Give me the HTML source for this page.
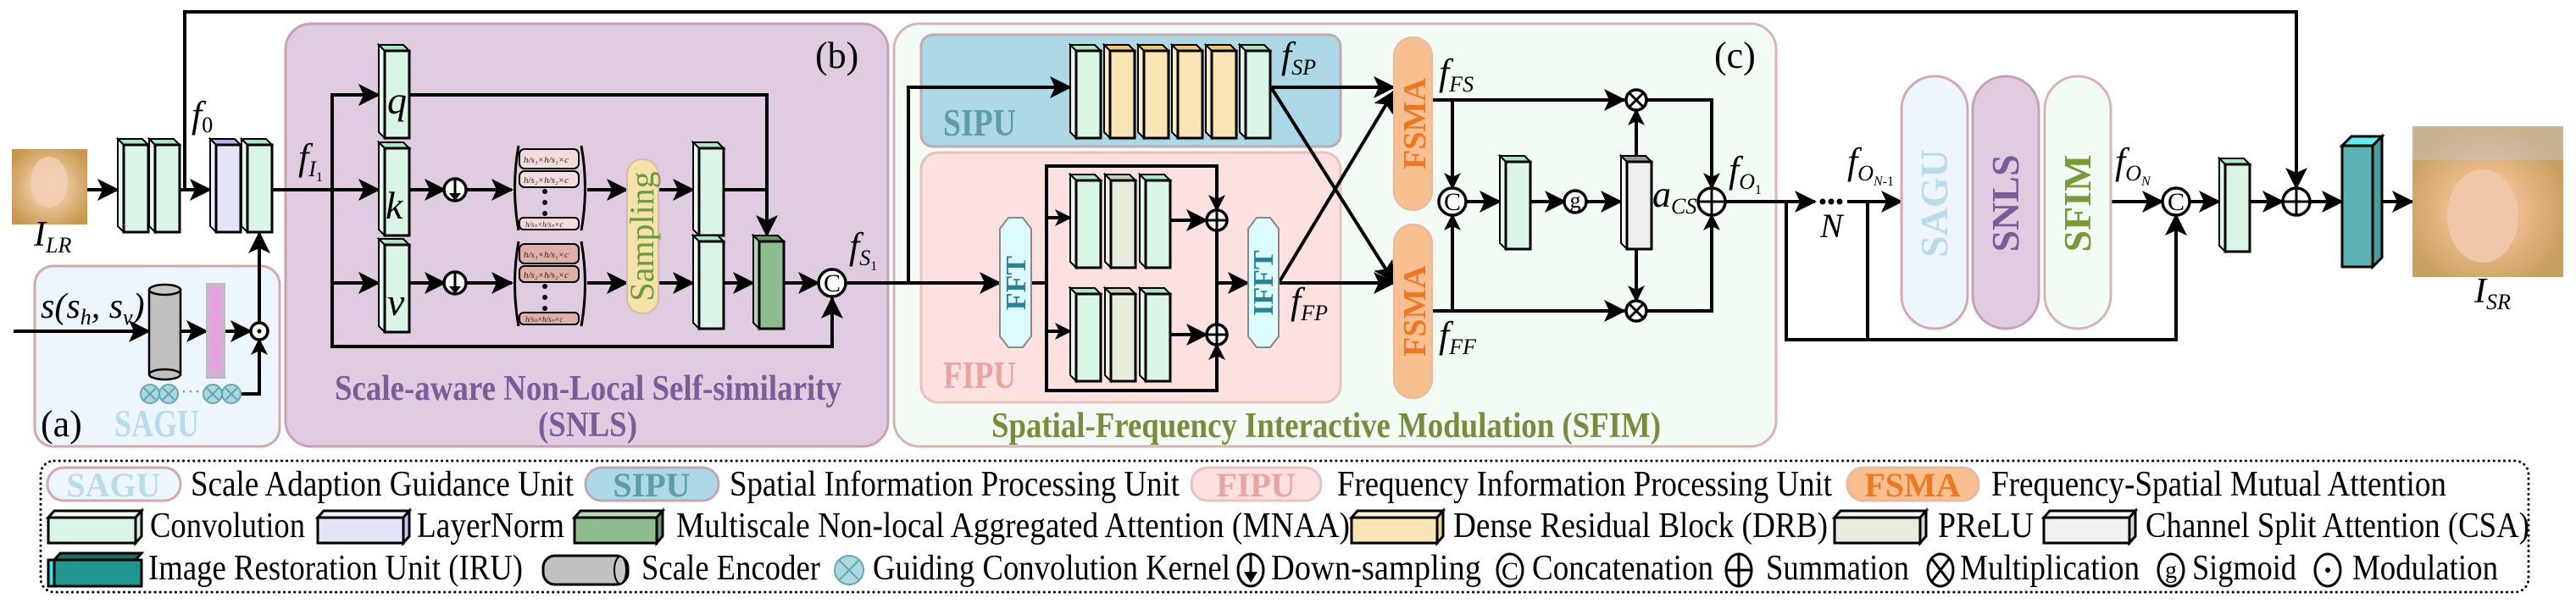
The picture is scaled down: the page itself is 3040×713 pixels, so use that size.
<!DOCTYPE html>
<html><head><meta charset="utf-8"><style>
html,body{margin:0;padding:0;background:#fff;}
svg{display:block;font-family:"Liberation Serif","Times New Roman",serif;}
svg text{font-family:"Liberation Serif","Times New Roman",serif;}
.i{font-style:italic;}
</style></head><body>
<svg width="3040" height="713" viewBox="0 0 3040 713" xmlns="http://www.w3.org/2000/svg" font-family="Liberation Serif, serif">
<defs>
<marker id="a" markerUnits="userSpaceOnUse" markerWidth="26" markerHeight="26" refX="24" refY="13" orient="auto"><path d="M0,0 L26,13 L0,26 L6,13 Z" fill="#000"/></marker>
<marker id="s" markerUnits="userSpaceOnUse" markerWidth="20" markerHeight="20" refX="18" refY="10" orient="auto"><path d="M0,0 L20,10 L0,20 L5,10 Z" fill="#000"/></marker>
<g id="bc"><polygon points="0,0 29,0 36,7 7,7" fill="#a8e8c4" stroke="#000" stroke-width="2"/><polygon points="0,0 7,7 7,110 0,103" fill="#e6f8ee" stroke="#000" stroke-width="2"/><rect x="7" y="7" width="29" height="103" fill="#d9f5e5" stroke="#000" stroke-width="3"/></g>
<g id="bl"><polygon points="0,0 29,0 36,7 7,7" fill="#b4b4e8" stroke="#000" stroke-width="2"/><polygon points="0,0 7,7 7,110 0,103" fill="#ececfa" stroke="#000" stroke-width="2"/><rect x="7" y="7" width="29" height="103" fill="#e4e4f8" stroke="#000" stroke-width="3"/></g>
<g id="bd"><polygon points="0,0 29,0 36,7 7,7" fill="#f0c870" stroke="#000" stroke-width="2"/><polygon points="0,0 7,7 7,110 0,103" fill="#fbecc8" stroke="#000" stroke-width="2"/><rect x="7" y="7" width="29" height="103" fill="#f8e4b4" stroke="#000" stroke-width="3"/></g>
<g id="bp"><polygon points="0,0 29,0 36,7 7,7" fill="#c8d0b8" stroke="#000" stroke-width="2"/><polygon points="0,0 7,7 7,110 0,103" fill="#f0f2e8" stroke="#000" stroke-width="2"/><rect x="7" y="7" width="29" height="103" fill="#e8ecdc" stroke="#000" stroke-width="3"/></g>
<g id="bm"><polygon points="0,0 29,0 36,7 7,7" fill="#5e9a64" stroke="#000" stroke-width="2"/><polygon points="0,0 7,7 7,110 0,103" fill="#b4d4b4" stroke="#000" stroke-width="2"/><rect x="7" y="7" width="29" height="103" fill="#8fbc8f" stroke="#000" stroke-width="3"/></g>
<g id="bg"><polygon points="0,0 29,0 36,7 7,7" fill="#999" stroke="#000" stroke-width="2"/><polygon points="0,0 7,7 7,110 0,103" fill="#f6f6f6" stroke="#000" stroke-width="2"/><rect x="7" y="7" width="29" height="103" fill="#efefef" stroke="#000" stroke-width="3"/></g>
<radialGradient id="face1" cx="50%" cy="50%" r="60%"><stop offset="0" stop-color="#f0c8a8"/><stop offset="0.45" stop-color="#e8c090"/><stop offset="1" stop-color="#c89850"/></radialGradient>
<radialGradient id="face2" cx="48%" cy="55%" r="55%"><stop offset="0" stop-color="#f4c8a8"/><stop offset="0.5" stop-color="#e8b888"/><stop offset="1" stop-color="#c8a060"/></radialGradient>
</defs>

<rect x="41" y="314" width="289" height="213" rx="22" fill="#eef6fd" stroke="#d4a8b0" stroke-width="3"/>
<rect x="337" y="28" width="711" height="499" rx="30" fill="#dfcce0" stroke="#c9a0b4" stroke-width="3"/>
<rect x="1055" y="28" width="1041" height="499" rx="30" fill="#f2fbf4" stroke="#d8b4b4" stroke-width="3"/>
<rect x="1087" y="41" width="495" height="132" rx="14" fill="#add8e6" stroke="#c0a8b4" stroke-width="3"/>
<rect x="1087" y="180" width="495" height="295" rx="20" fill="#fde1e0" stroke="#eac0c0" stroke-width="3"/>

<text x="962" y="80" font-size="44">(b)</text>
<text x="2023" y="80" font-size="44">(c)</text>
<text x="48" y="515" font-size="44">(a)</text>
<text x="135" y="515" font-size="46" font-weight="bold" fill="#b8dce8" textLength="100" lengthAdjust="spacingAndGlyphs">SAGU</text>
<text x="1113" y="160" font-size="46" font-weight="bold" fill="#5f9ea0" textLength="86" lengthAdjust="spacingAndGlyphs">SIPU</text>
<text x="1113" y="458" font-size="46" font-weight="bold" fill="#e8a4a4" textLength="86" lengthAdjust="spacingAndGlyphs">FIPU</text>
<text x="395" y="472" font-size="42" font-weight="bold" fill="#7a5c99" textLength="598" lengthAdjust="spacingAndGlyphs">Scale-aware Non-Local Self-similarity</text>
<text x="635" y="515" font-size="42" font-weight="bold" fill="#7a5c99" textLength="117" lengthAdjust="spacingAndGlyphs">(SNLS)</text>
<text x="1170" y="516" font-size="42" font-weight="bold" fill="#7a8c3c" textLength="790" lengthAdjust="spacingAndGlyphs">Spatial-Frequency Interactive Modulation (SFIM)</text>

<g stroke="#000" stroke-width="4" fill="none">
<polyline points="218,224 218,14 2710,14 2710,222" marker-end="url(#a)"/>
<line x1="103" y1="224" x2="139" y2="224" marker-end="url(#a)"/>
<line x1="212" y1="224" x2="248" y2="224" marker-end="url(#a)"/>
<line x1="320" y1="224" x2="447" y2="224" marker-end="url(#a)"/>
<polyline points="447,112 392,112 392,409 982,409 982,352" marker-end="url(#a)"/>
<line x1="392" y1="334" x2="447" y2="334" marker-end="url(#a)"/>
<line x1="392" y1="112" x2="447" y2="112" marker-end="url(#a)"/>
<polyline points="483,112 905,112 905,278" marker-end="url(#a)"/>
<line x1="483" y1="224" x2="525" y2="224" marker-end="url(#a)"/>
<line x1="483" y1="334" x2="525" y2="334" marker-end="url(#a)"/>
<line x1="549" y1="224" x2="604" y2="224" marker-end="url(#a)"/>
<line x1="549" y1="334" x2="604" y2="334" marker-end="url(#a)"/>
<line x1="693" y1="224" x2="740" y2="224" marker-end="url(#a)"/>
<line x1="693" y1="334" x2="740" y2="334" marker-end="url(#a)"/>
<line x1="777" y1="224" x2="818" y2="224" marker-end="url(#a)"/>
<line x1="777" y1="334" x2="818" y2="334" marker-end="url(#a)"/>
<line x1="854" y1="224" x2="905" y2="224"/>
<line x1="854" y1="334" x2="889" y2="334" marker-end="url(#a)"/>
<line x1="926" y1="334" x2="966" y2="334" marker-end="url(#a)"/>
<line x1="16" y1="391" x2="176" y2="391" marker-end="url(#a)"/>
<line x1="213" y1="391" x2="244" y2="391" marker-end="url(#a)"/>
<line x1="265" y1="391" x2="296" y2="391" marker-end="url(#a)"/>
<polyline points="285,465 306,465 306,401" marker-end="url(#s)"/>
<line x1="306" y1="381" x2="306" y2="275" marker-end="url(#a)"/>
<polyline points="998,334 1072,334 1072,103 1263,103" marker-end="url(#a)"/>
<line x1="1072" y1="334" x2="1180" y2="334" marker-end="url(#a)"/>
<line x1="1217" y1="334" x2="1235" y2="334"/>
<polyline points="1436,248 1436,196 1235,196 1235,461 1436,461 1436,407"/>
<line x1="1235" y1="257" x2="1263" y2="257" marker-end="url(#s)"/>
<line x1="1235" y1="391" x2="1263" y2="391" marker-end="url(#s)"/>
<line x1="1381" y1="260" x2="1424" y2="260" marker-end="url(#a)"/>
<line x1="1381" y1="395" x2="1424" y2="395" marker-end="url(#a)"/>
<line x1="1436" y1="272" x2="1436" y2="383"/>
<line x1="1436" y1="334" x2="1473" y2="334" marker-end="url(#a)"/>
<line x1="1436" y1="196" x2="1436" y2="248" marker-end="url(#s)"/>
<line x1="1436" y1="461" x2="1436" y2="407" marker-end="url(#s)"/>
<line x1="1500" y1="103" x2="1645" y2="103" marker-end="url(#a)"/>
<line x1="1500" y1="103" x2="1645" y2="333" marker-end="url(#a)"/>
<line x1="1509" y1="334" x2="1645" y2="334" marker-end="url(#a)"/>
<line x1="1509" y1="334" x2="1645" y2="108" marker-end="url(#a)"/>
<line x1="1690" y1="118" x2="1917" y2="118" marker-end="url(#a)"/>
<line x1="1690" y1="367" x2="1917" y2="367" marker-end="url(#a)"/>
<line x1="1714" y1="118" x2="1714" y2="222" marker-end="url(#s)"/>
<line x1="1714" y1="367" x2="1714" y2="254" marker-end="url(#s)"/>
<line x1="1730" y1="238" x2="1770" y2="238" marker-end="url(#a)"/>
<line x1="1805" y1="238" x2="1847" y2="238" marker-end="url(#a)"/>
<line x1="1871" y1="238" x2="1913" y2="238" marker-end="url(#a)"/>
<line x1="1931" y1="184" x2="1931" y2="130" marker-end="url(#s)"/>
<line x1="1931" y1="294" x2="1931" y2="355" marker-end="url(#s)"/>
<polyline points="1941,118 2020,118 2020,222" marker-end="url(#s)"/>
<polyline points="1941,367 2020,367 2020,254" marker-end="url(#s)"/>
<line x1="2036" y1="238" x2="2142" y2="238" marker-end="url(#a)"/>
<line x1="2180" y1="238" x2="2244" y2="238" marker-end="url(#a)"/>
<polyline points="2108,238 2108,401 2568,401 2568,254" marker-end="url(#a)"/>
<line x1="2204" y1="238" x2="2204" y2="401"/>
<line x1="2491" y1="238" x2="2552" y2="238" marker-end="url(#a)"/>
<line x1="2584" y1="238" x2="2619" y2="238" marker-end="url(#a)"/>
<line x1="2656" y1="238" x2="2694" y2="238" marker-end="url(#a)"/>
<line x1="2726" y1="238" x2="2764" y2="238" marker-end="url(#a)"/>
<line x1="2811" y1="238" x2="2847" y2="238" marker-end="url(#a)"/>
</g>

<rect x="14" y="176" width="89" height="89" fill="url(#face1)"/>
<ellipse cx="58" cy="215" rx="22" ry="30" fill="#f2d0b8" opacity="0.8"/>
<text class="i" x="40" y="290" font-size="42" font-style="italic">I<tspan font-size="26" dy="8">LR</tspan></text>
<rect x="2847" y="149" width="178" height="178" fill="url(#face2)"/>
<rect x="2847" y="149" width="178" height="40" fill="#c8c8c8" opacity="0.5"/>
<ellipse cx="2930" cy="255" rx="42" ry="55" fill="#f0c8a8"/>
<text class="i" x="2920" y="357" font-size="42" font-style="italic">I<tspan font-size="26" dy="8">SR</tspan></text>

<use href="#bc" x="139" y="164"/><use href="#bc" x="176" y="164"/>
<use href="#bl" x="248" y="164"/><use href="#bc" x="285" y="164"/>
<use href="#bc" x="447" y="53"/><use href="#bc" x="447" y="168"/><use href="#bc" x="447" y="282"/>
<use href="#bc" x="818" y="168"/><use href="#bc" x="818" y="278"/>
<use href="#bm" x="889" y="278"/>
<use href="#bc" x="1263" y="53"/><use href="#bd" x="1303" y="53"/><use href="#bd" x="1343" y="53"/><use href="#bd" x="1383" y="53"/><use href="#bd" x="1423" y="53"/><use href="#bc" x="1463" y="53"/>
<use href="#bc" x="1263" y="206"/><use href="#bp" x="1304" y="206"/><use href="#bc" x="1345" y="206"/>
<use href="#bc" x="1263" y="340"/><use href="#bp" x="1304" y="340"/><use href="#bc" x="1345" y="340"/>
<use href="#bc" x="1770" y="184"/>
<use href="#bg" x="1913" y="184"/>
<use href="#bc" x="2619" y="187"/>
<g stroke="#000" stroke-width="3"><polygon points="2764,172 2775,161 2811,161 2800,172" fill="#5ef0f0"/><polygon points="2800,172 2811,161 2811,304 2800,315" fill="#4a9c9c"/><rect x="2764" y="172" width="36" height="143" fill="#5ab2b2"/></g>

<g font-style="italic" font-size="46">
<text x="457" y="134">q</text>
<text x="455" y="258">k</text>
<text x="457" y="372">v</text>
</g>

<g stroke="#000" stroke-width="3.5" fill="#fff">
<circle cx="537" cy="224" r="13"/><circle cx="537" cy="334" r="13"/>
<circle cx="982" cy="334" r="16"/>
<circle cx="306" cy="391" r="10"/>
<circle cx="1436" cy="260" r="12"/><circle cx="1436" cy="395" r="12"/>
<circle cx="1714" cy="238" r="16"/><circle cx="1859" cy="238" r="13"/>
<circle cx="1931" cy="118" r="12"/><circle cx="1931" cy="367" r="12"/>
<circle cx="2020" cy="238" r="16"/>
<circle cx="2568" cy="238" r="16"/><circle cx="2710" cy="238" r="16"/>
</g>
<g stroke="#000" stroke-width="3">
<line x1="537" y1="211" x2="537" y2="230"/><line x1="537" y1="321" x2="537" y2="340"/>
<line x1="1424" y1="260" x2="1448" y2="260"/><line x1="1436" y1="248" x2="1436" y2="272"/>
<line x1="1424" y1="395" x2="1448" y2="395"/><line x1="1436" y1="383" x2="1436" y2="407"/>
<line x1="2004" y1="238" x2="2036" y2="238"/><line x1="2020" y1="222" x2="2020" y2="254"/>
<line x1="2694" y1="238" x2="2726" y2="238"/><line x1="2710" y1="222" x2="2710" y2="254"/>
<line x1="1923" y1="110" x2="1939" y2="126"/><line x1="1939" y1="110" x2="1923" y2="126"/>
<line x1="1923" y1="359" x2="1939" y2="375"/><line x1="1939" y1="359" x2="1923" y2="375"/>
</g>
<path d="M530,228 L544,228 L537,237 Z" fill="#000"/><path d="M530,338 L544,338 L537,347 Z" fill="#000"/>
<circle cx="306" cy="391" r="2.5" fill="#000"/>
<g font-size="30" text-anchor="middle">
<text x="982" y="344">C</text><text x="1714" y="248">C</text><text x="2568" y="248">C</text>
<text x="1859" y="245" font-size="26">g</text>
</g>

<g stroke="#000" stroke-width="2.5"><rect x="176" y="342" width="37" height="100" fill="#c0c0c0"/><ellipse cx="194.5" cy="342" rx="18.5" ry="6" fill="#c8c8c8"/><ellipse cx="194.5" cy="442" rx="18.5" ry="6" fill="#c0c0c0"/></g>
<rect x="244" y="335" width="21" height="111" fill="#d4b0d4" stroke="#bbb" stroke-width="2"/>
<g fill="#e8a0e0"><circle cx="254.5" cy="346" r="7"/><circle cx="254.5" cy="360" r="7"/><circle cx="254.5" cy="374" r="7"/><circle cx="254.5" cy="388" r="7"/><circle cx="254.5" cy="402" r="7"/><circle cx="254.5" cy="416" r="7"/><circle cx="254.5" cy="430" r="7"/></g>
<g fill="#a8d8e0" stroke="#6aa6b0" stroke-width="2"><circle cx="177" cy="465" r="11"/><circle cx="199" cy="465" r="11"/><circle cx="251" cy="465" r="11"/><circle cx="273" cy="465" r="11"/></g>
<g stroke="#6aa6b0" stroke-width="2"><path d="M170,458l14,14M184,458l-14,14M192,458l14,14M206,458l-14,14M244,458l14,14M258,458l-14,14M266,458l14,14M280,458l-14,14"/></g>
<text x="213" y="470" font-size="24" fill="#6aa6b0">···</text>
<text x="48" y="375" font-size="42" font-style="italic">s(s<tspan font-size="26" dy="8">h</tspan><tspan dy="-8">, s</tspan><tspan font-size="26" dy="8">v</tspan><tspan dy="-8">)</tspan></text>

<g fill="none" stroke="#000" stroke-width="3">
<path d="M612,172 Q603,222 612,272"/><path d="M686,172 Q695,222 686,272"/>
<path d="M612,285 Q603,335 612,385"/><path d="M686,285 Q695,335 686,385"/>
</g>
<g stroke="#000" stroke-width="2" fill="#f5dcdc">
<rect x="613" y="176" width="70" height="23" rx="6"/><rect x="613" y="202" width="70" height="19" rx="6"/><rect x="613" y="257" width="70" height="14" rx="5"/>
</g>
<g stroke="#000" stroke-width="2" fill="#e0b0a8">
<rect x="613" y="288" width="70" height="23" rx="6"/><rect x="613" y="314" width="70" height="19" rx="6"/><rect x="613" y="369" width="70" height="14" rx="5"/>
</g>
<g font-style="italic" font-size="11" fill="#222"><text x="618" y="192">h/s₁×h/s₁×c</text><text x="618" y="216">h/s₂×h/s₂×c</text><text x="620" y="268" font-size="9">h/sₙ×h/sₙ×c</text>
<text x="618" y="304">h/s₁×h/s₁×c</text><text x="618" y="328">h/s₂×h/s₂×c</text><text x="620" y="380" font-size="9">h/sₙ×h/sₙ×c</text></g>
<g fill="#000"><circle cx="643" cy="226" r="3"/><circle cx="643" cy="239" r="3"/><circle cx="643" cy="252" r="3"/><circle cx="643" cy="338" r="3"/><circle cx="643" cy="351" r="3"/><circle cx="643" cy="364" r="3"/></g>
<rect x="740" y="188" width="37" height="182" rx="18" fill="#f5e2aa" stroke="#d8b8a8" stroke-width="2"/>
<text transform="translate(771,279) rotate(-90)" text-anchor="middle" font-size="40" fill="#6a9a3a">Sampling</text>

<polygon points="1180,270 1190,257 1207,257 1217,270 1217,397 1207,410 1190,410 1180,397" fill="#dbfbfd" stroke="#888" stroke-width="2"/>
<polygon points="1473,270 1483,257 1499,257 1509,270 1509,397 1499,410 1483,410 1473,397" fill="#dbfbfd" stroke="#888" stroke-width="2"/>
<text transform="translate(1210,334) rotate(-90)" text-anchor="middle" font-size="34" font-weight="bold" fill="#2a8098">FFT</text>
<text transform="translate(1502,334) rotate(-90)" text-anchor="middle" font-size="34" font-weight="bold" fill="#2a8098">IFFT</text>

<rect x="1645" y="44" width="45" height="204" rx="22" fill="#f8c090" stroke="#e8b8a0" stroke-width="2"/>
<rect x="1645" y="265" width="45" height="205" rx="22" fill="#f8c090" stroke="#e8b8a0" stroke-width="2"/>
<text transform="translate(1682,146) rotate(-90)" text-anchor="middle" font-size="38" font-weight="bold" fill="#ee7722">FSMA</text>
<text transform="translate(1682,367) rotate(-90)" text-anchor="middle" font-size="38" font-weight="bold" fill="#ee7722">FSMA</text>

<rect x="2244" y="90" width="78" height="298" rx="39" fill="#eef6fd" stroke="#d4a8b0" stroke-width="3"/>
<rect x="2328" y="90" width="78" height="298" rx="39" fill="#dfcce0" stroke="#c9a0b4" stroke-width="3"/>
<rect x="2413" y="90" width="78" height="298" rx="39" fill="#f2fbf4" stroke="#d8b4b4" stroke-width="3"/>
<text transform="translate(2298,240) rotate(-90)" text-anchor="middle" font-size="46" font-weight="bold" fill="#b8dce8">SAGU</text>
<text transform="translate(2382,240) rotate(-90)" text-anchor="middle" font-size="46" font-weight="bold" fill="#7a5c99">SNLS</text>
<text transform="translate(2467,240) rotate(-90)" text-anchor="middle" font-size="46" font-weight="bold" fill="#7a9a3a">SFIM</text>
<g fill="#000"><circle cx="2151" cy="238" r="3.5"/><circle cx="2161" cy="238" r="3.5"/><circle cx="2171" cy="238" r="3.5"/></g>
<text x="2148" y="280" font-size="40" font-style="italic">N</text>

<g font-style="italic" font-size="44">
<text x="226" y="150">f<tspan font-size="26" dy="6" font-style="normal">0</tspan></text>
<text x="352" y="200">f<tspan font-size="26" dy="8">I</tspan><tspan font-size="16" dy="6" font-style="normal">1</tspan></text>
<text x="1002" y="305">f<tspan font-size="26" dy="8">S</tspan><tspan font-size="16" dy="6" font-style="normal">1</tspan></text>
<text x="1512" y="80">f<tspan font-size="26" dy="8">SP</tspan></text>
<text x="1523" y="370">f<tspan font-size="26" dy="8">FP</tspan></text>
<text x="1698" y="100">f<tspan font-size="26" dy="8">FS</tspan></text>
<text x="1698" y="410">f<tspan font-size="26" dy="8">FF</tspan></text>
<text x="1950" y="244">a<tspan font-size="26" dy="8">CS</tspan></text>
<text x="2040" y="215">f<tspan font-size="26" dy="8">O</tspan><tspan font-size="16" dy="6" font-style="normal">1</tspan></text>
<text x="2180" y="205">f<tspan font-size="26" dy="8">O</tspan><tspan font-size="16" dy="6">N</tspan><tspan font-size="16" font-style="normal">-1</tspan></text>
<text x="2496" y="205">f<tspan font-size="26" dy="8">O</tspan><tspan font-size="16" dy="6">N</tspan></text>
</g>

<rect x="48" y="544" width="2936" height="155" rx="16" fill="none" stroke="#000" stroke-width="3" stroke-dasharray="0.1 6" stroke-linecap="round"/>
<g stroke-width="3">
<rect x="56" y="552" width="157" height="39" rx="19" fill="#eef6fd" stroke="#d4a8b0"/>
<rect x="691" y="552" width="157" height="39" rx="19" fill="#add8e6" stroke="#c0a8b4"/>
<rect x="1406" y="552" width="153" height="39" rx="19" fill="#fde1e0" stroke="#eac0c0"/>
<rect x="2180" y="552" width="155" height="39" rx="19" fill="#f8c090" stroke="#e8b8a0"/>
</g>
<g font-size="40" font-weight="bold" text-anchor="middle">
<text x="134" y="586" fill="#b8dce8">SAGU</text><text x="769" y="586" fill="#5f9ea0">SIPU</text>
<text x="1482" y="586" fill="#e8a4a4">FIPU</text><text x="2257" y="586" fill="#ee7722">FSMA</text>
</g>
<g font-size="42">
<text x="225" y="585" textLength="452" lengthAdjust="spacingAndGlyphs">Scale Adaption Guidance Unit</text>
<text x="861" y="585" textLength="531" lengthAdjust="spacingAndGlyphs">Spatial Information Processing Unit</text>
<text x="1578" y="585" textLength="584" lengthAdjust="spacingAndGlyphs">Frequency Information Processing Unit</text>
<text x="2350" y="585" textLength="537" lengthAdjust="spacingAndGlyphs">Frequency-Spatial Mutual Attention</text>
<text x="177" y="634" textLength="183" lengthAdjust="spacingAndGlyphs">Convolution</text>
<text x="492" y="634" textLength="174" lengthAdjust="spacingAndGlyphs">LayerNorm</text>
<text x="798" y="634" textLength="795" lengthAdjust="spacingAndGlyphs">Multiscale Non-local Aggregated Attention (MNAA)</text>
<text x="1715" y="634" textLength="442" lengthAdjust="spacingAndGlyphs">Dense Residual Block (DRB)</text>
<text x="2287" y="634" textLength="113" lengthAdjust="spacingAndGlyphs">PReLU</text>
<text x="2532" y="634" textLength="453" lengthAdjust="spacingAndGlyphs">Channel Split Attention (CSA)</text>
<text x="175" y="684" textLength="442" lengthAdjust="spacingAndGlyphs">Image Restoration Unit (IRU)</text>
<text x="757" y="684" textLength="211" lengthAdjust="spacingAndGlyphs">Scale Encoder</text>
<text x="1030" y="684" textLength="422" lengthAdjust="spacingAndGlyphs">Guiding Convolution Kernel</text>
<text x="1500" y="684" textLength="248" lengthAdjust="spacingAndGlyphs">Down-sampling</text>
<text x="1808" y="684" textLength="214" lengthAdjust="spacingAndGlyphs">Concatenation</text>
<text x="2084" y="684" textLength="169" lengthAdjust="spacingAndGlyphs">Summation</text>
<text x="2313" y="684" textLength="212" lengthAdjust="spacingAndGlyphs">Multiplication</text>
<text x="2587" y="684" textLength="123" lengthAdjust="spacingAndGlyphs">Sigmoid</text>
<text x="2776" y="684" textLength="172" lengthAdjust="spacingAndGlyphs">Modulation</text>
</g>
<g stroke="#000" stroke-width="3">
<polygon points="57,611 64,603 167,603 160,611" fill="#f0fbf4"/><polygon points="160,611 167,603 167,633 160,641" fill="#d9f5e5"/><rect x="57" y="611" width="103" height="30" fill="#d9f5e5"/>
<polygon points="375,611 382,603 483,603 476,611" fill="#f0f0fc"/><polygon points="476,611 483,603 483,633 476,641" fill="#c8c8f0"/><rect x="375" y="611" width="101" height="30" fill="#e4e4f8"/>
<polygon points="678,611 685,603 782,603 775,611" fill="#b8d8b8"/><polygon points="775,611 782,603 782,633 775,641" fill="#6a9a6a"/><rect x="678" y="611" width="97" height="30" fill="#8fbc8f"/>
<polygon points="1595,611 1602,603 1703,603 1696,611" fill="#fbf0d8"/><polygon points="1696,611 1703,603 1703,633 1696,641" fill="#f0d890"/><rect x="1595" y="611" width="101" height="30" fill="#f8e4b4"/>
<polygon points="2165,611 2172,603 2273,603 2266,611" fill="#f4f6ee"/><polygon points="2266,611 2273,603 2273,633 2266,641" fill="#d8dcc8"/><rect x="2165" y="611" width="101" height="30" fill="#e8ecdc"/>
<polygon points="2412,611 2419,603 2520,603 2513,611" fill="#f8f8f8"/><polygon points="2513,611 2520,603 2520,633 2513,641" fill="#ddd"/><rect x="2412" y="611" width="101" height="30" fill="#f0f0f0"/>
<polygon points="64,661 71,653 167,653 160,661" fill="#1e6a66"/><polygon points="57,661 64,661 64,692 57,692" fill="#30e8e8"/><rect x="64" y="661" width="103" height="31" fill="#21968e"/>
<rect x="641" y="656" width="100" height="34" rx="14" fill="#c0c0c0"/>
</g>
<ellipse cx="732" cy="673" rx="7" ry="16" fill="#c8c8c8" stroke="#000" stroke-width="2"/>
<circle cx="1002" cy="673" r="17" fill="#a8d8e0" stroke="#6aa6b0" stroke-width="2"/>
<path d="M990,661l24,24M1014,661l-24,24" stroke="#6aa6b0" stroke-width="2"/>
<g stroke="#000" stroke-width="3" fill="none">
<ellipse cx="1476" cy="673" rx="15" ry="19"/><ellipse cx="1782" cy="673" rx="15" ry="19"/><ellipse cx="2052" cy="673" rx="15" ry="19"/>
<ellipse cx="2290" cy="673" rx="15" ry="19"/><ellipse cx="2562" cy="673" rx="15" ry="19"/><ellipse cx="2747" cy="673" rx="15" ry="19"/>
<line x1="1476" y1="654" x2="1476" y2="676"/><line x1="2037" y1="673" x2="2067" y2="673"/><line x1="2052" y1="654" x2="2052" y2="692"/>
<line x1="2280" y1="660" x2="2300" y2="686"/><line x1="2300" y1="660" x2="2280" y2="686"/>
</g>
<path d="M1468,675 L1484,675 L1476,688 Z" fill="#000"/>
<circle cx="2747" cy="673" r="3" fill="#000"/>
<text x="1782" y="684" font-size="30" text-anchor="middle">C</text>
<text x="2562" y="682" font-size="28" text-anchor="middle">g</text>
</svg>
</body></html>
